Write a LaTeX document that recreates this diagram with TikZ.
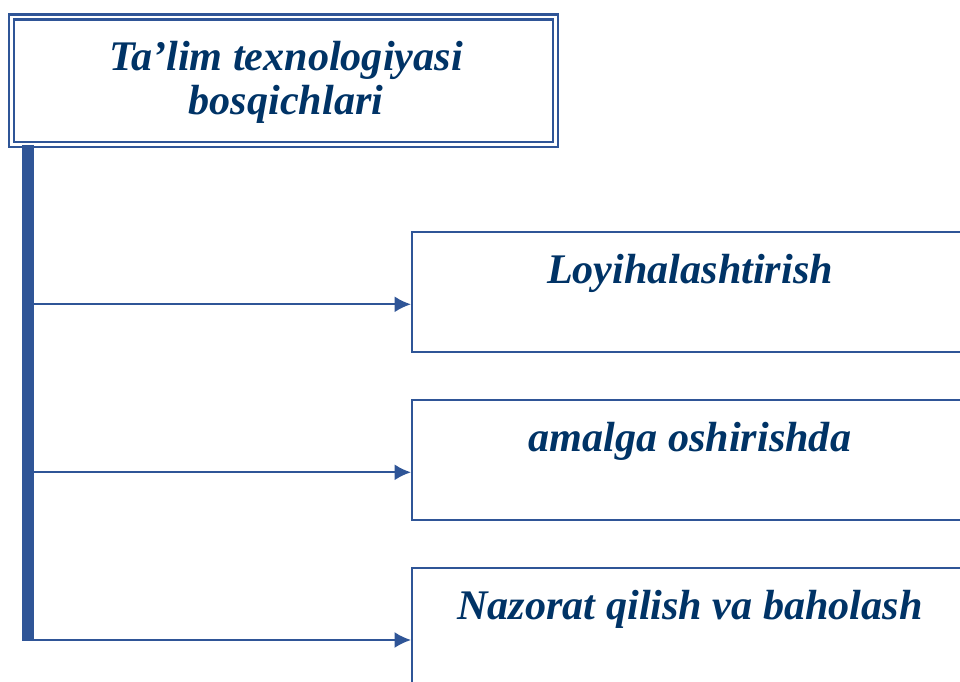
\documentclass[tikz,border=0pt]{standalone}
\usepackage{fontspec}
\setmainfont{Liberation Serif}
\usetikzlibrary{arrows.meta}

\newlength{\du}
\setlength{\du}{0.02cm}

\definecolor{dialinecolor}{rgb}{0.184, 0.333, 0.592}
\definecolor{textcolor}{rgb}{0.000, 0.200, 0.400}

\tikzset{
  stepbox/.style={draw=dialinecolor, line width=2\du, inner sep=0pt,
    minimum width=557\du, minimum height=120\du},
  steptext/.style={text=textcolor, anchor=base, inner sep=0pt, align=center,
    font=\fontsize{24}{25.6}\selectfont\bfseries\itshape},
  steparrow/.style={draw=dialinecolor, line width=2\du,
    -{Latex[length=0.33cm,width=0.32cm]}}
}

\begin{document}
\begin{tikzpicture}
\pgftransformxscale{1.000000}
\pgftransformyscale{-1.000000}
\useasboundingbox (0\du,0\du) rectangle (960\du,682\du);
\clip (0\du,0\du) rectangle (960\du,682\du);
% title
\node (title) [draw=dialinecolor, line width=2.4\du, double=white, double distance=2.6\du,
  inner sep=0pt, minimum width=544\du, minimum height=127.5\du] at (283.5\du,80.75\du) {};
\node (titletext) [steptext] at (286\du,115\du) {Ta’lim texnologiyasi\\bosqichlari};
% spine
\node (spine) [fill=dialinecolor, inner sep=0pt, minimum width=11.5\du,
  minimum height=496\du] at (28\du,393\du) {};
% steps
\node (design) [stepbox] at (690.5\du,292.3\du) {};
\node (designtext) [steptext] at (690\du,283.3\du) {Loyihalashtirish};
\node (apply) [stepbox] at (690.5\du,460.3\du) {};
\node (applytext) [steptext] at (690\du,451.3\du) {amalga oshirishda};
\node (control) [stepbox] at (690.5\du,628.3\du) {};
\node (controltext) [steptext] at (690\du,619.3\du) {Nazorat qilish va baholash};
% arrows
\coordinate (designfrom) at (28\du,304.3\du);
\coordinate (applyfrom) at (28\du,472.3\du);
\coordinate (controlfrom) at (28\du,640\du);
\draw[steparrow] (designfrom) -- (designfrom -| design.west);
\draw[steparrow] (applyfrom) -- (applyfrom -| apply.west);
\draw[steparrow] (controlfrom) -- (controlfrom -| control.west);
\end{tikzpicture}
\end{document}
